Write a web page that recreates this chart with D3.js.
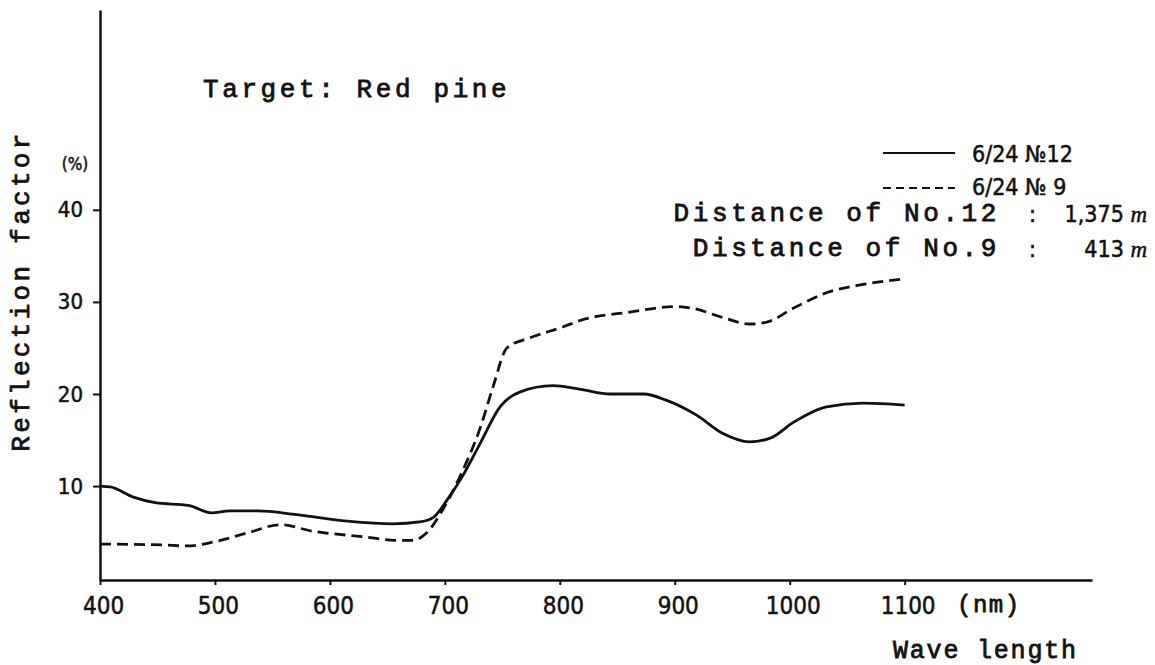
<!DOCTYPE html>
<html>
<head>
<meta charset="utf-8">
<script src="https://cdn.jsdelivr.net/npm/d3@7"></script>
<style>
    body { margin: 0; background: #fff; }
    .mono { font-family: "Liberation Mono", "DejaVu Sans Mono", monospace; fill: #111; stroke: #111; stroke-width: 0.8px; }
    .num { font-family: "DejaVu Sans Condensed", "DejaVu Sans", sans-serif; font-stretch: condensed; fill: #111; stroke: #111; stroke-width: 0.5px; }
</style>
</head>
<body>
<div id="chart"></div>
<script>
'use strict';

// values
const xTicks = [400, 500, 600, 700, 800, 900, 1000, 1100];
const yTicks = [10, 20, 30, 40];

const waveNo12 = [400, 409, 429, 448, 477, 497, 513, 537, 571, 615, 655, 678, 690, 702, 715, 731, 748, 765, 794, 818, 844, 873, 893, 919, 942, 965, 983, 1003, 1032, 1064, 1100];
const reflNo12 = [10.0, 9.9, 8.8, 8.2, 7.9, 7.1, 7.3, 7.3, 6.9, 6.2, 5.9, 6.1, 6.6, 8.5, 11.0, 14.7, 18.6, 20.2, 20.9, 20.5, 20.0, 20.0, 19.3, 17.7, 15.7, 14.8, 15.2, 16.9, 18.6, 19.0, 18.8];

const waveNo9 = [400, 455, 476, 498, 528, 557, 585, 629, 658, 672, 684, 698, 713, 731, 742, 754, 774, 803, 818, 861, 902, 916, 942, 965, 980, 1003, 1032, 1064, 1100];
const reflNo9 = [3.7, 3.6, 3.5, 3.9, 4.9, 5.8, 5.1, 4.5, 4.1, 4.1, 4.9, 7.4, 11.0, 16.4, 20.8, 25.0, 26.1, 27.3, 28.0, 28.9, 29.5, 29.3, 28.3, 27.6, 27.8, 29.3, 31.0, 31.9, 32.5];

const legendLabels = ['6/24 \u211612', '6/24 \u2116 9'];
const distanceLabels = ['Distance of No.12', 'Distance of No.9'];
const distanceValues = ['1,375', '413'];

(function () {
    const width = 1155, height = 665;

    const svg = d3.select('#chart').append('svg')
        .attr('width', width)
        .attr('height', height)
        .style('background', '#fff');

    const x = d3.scaleLinear()
        .domain([400, 1263])
        .range([100, 1092]);
    const y = d3.scaleLinear()
        .domain([-0.2, 61.7])
        .range([580, 10]);

    // axes
    const xAxis = svg.append('g')
        .attr('transform', `translate(0, ${y(-0.2)})`)
        .call(d3.axisBottom(x).tickValues(xTicks).tickSize(5).tickSizeOuter(0).tickPadding(12));
    xAxis.selectAll('text')
        .attr('class', 'num')
        .attr('dx', 3)
        .style('font-size', '24px')
        .text(d => d);

    const yAxis = svg.append('g')
        .attr('transform', `translate(${x(400)}, 0)`)
        .call(d3.axisLeft(y).tickValues(yTicks).tickSize(7).tickSizeOuter(0).tickPadding(10));
    yAxis.selectAll('text')
        .attr('class', 'num')
        .style('font-size', '22px');

    svg.selectAll('.domain').attr('stroke', '#111').attr('stroke-width', 2.5);
    svg.selectAll('.tick line').attr('stroke', '#111').attr('stroke-width', 2);
    svg.selectAll('g').attr('font-family', null).attr('font-size', null);

    // curves
    const line = d3.line()
        .x(d => x(d[0]))
        .y(d => y(d[1]))
        .curve(d3.curveMonotoneX);

    svg.append('path')
        .datum(d3.zip(waveNo12, reflNo12))
        .attr('fill', 'none')
        .attr('stroke', '#111')
        .attr('stroke-width', 2.8)
        .attr('d', line);

    svg.append('path')
        .datum(d3.zip(waveNo9, reflNo9))
        .attr('fill', 'none')
        .attr('stroke', '#111')
        .attr('stroke-width', 2.8)
        .attr('stroke-dasharray', '11,6')
        .attr('d', line);

    // texts
    svg.append('text')
        .attr('class', 'mono')
        .attr('x', 203).attr('y', 97)
        .style('font-size', '26px')
        .style('letter-spacing', '3.6px')
        .text('Target: Red pine');

    svg.append('text')
        .attr('class', 'mono')
        .attr('transform', 'translate(29, 291) rotate(-90)')
        .attr('text-anchor', 'middle')
        .style('font-size', '26px')
        .style('letter-spacing', '3.3px')
        .text('Reflection factor');

    svg.append('text')
        .attr('class', 'num')
        .attr('x', 75).attr('y', 170)
        .attr('text-anchor', 'middle')
        .style('font-size', '17px')
        .text('(%)');

    svg.append('text')
        .attr('class', 'mono')
        .attr('x', 957).attr('y', 612)
        .style('font-size', '24px')
        .style('letter-spacing', '1.5px')
        .text('(nm)');

    svg.append('text')
        .attr('class', 'mono')
        .attr('x', 893).attr('y', 658)
        .style('font-size', '25px')
        .style('letter-spacing', '1.8px')
        .text('Wave length');

    // legend
    const legend = svg.append('g');
    legend.selectAll('line')
        .data(legendLabels)
        .join('line')
            .attr('x1', 883).attr('x2', 955)
            .attr('y1', (d, i) => 153 + i * 35)
            .attr('y2', (d, i) => 153 + i * 35)
            .attr('stroke', '#111')
            .attr('stroke-width', 2)
            .attr('stroke-dasharray', (d, i) => i === 0 ? null : '8,5');
    legend.selectAll('text')
        .data(legendLabels)
        .join('text')
            .attr('class', 'num')
            .attr('x', 972)
            .attr('y', (d, i) => 162 + i * 33)
            .style('font-size', '23px')
            .text(d => d);

    const dist = svg.append('g');
    dist.selectAll('text.label')
        .data(distanceLabels)
        .join('text')
            .attr('class', 'mono label')
            .attr('x', 1000)
            .attr('y', (d, i) => 221 + i * 35)
            .attr('text-anchor', 'end')
            .style('font-size', '26px')
            .style('letter-spacing', '3.6px')
            .text(d => d);
    dist.selectAll('text.colon')
        .data(distanceValues)
        .join('text')
            .attr('class', 'num colon')
            .attr('x', 1029)
            .attr('y', (d, i) => 222 + i * 35)
            .style('font-size', '23px')
            .text(':');
    const vals = dist.selectAll('text.val')
        .data(distanceValues)
        .join('text')
            .attr('class', 'num val')
            .attr('x', 1147)
            .attr('y', (d, i) => 222 + i * 35)
            .attr('text-anchor', 'end')
            .style('font-size', '23px');
    vals.append('tspan').text(d => d + ' ');
    vals.append('tspan')
        .style('font-family', '"Liberation Serif", serif')
        .style('font-style', 'italic')
        .style('font-size', '23px')
        .text('m');
})();
</script>
</body>
</html>
